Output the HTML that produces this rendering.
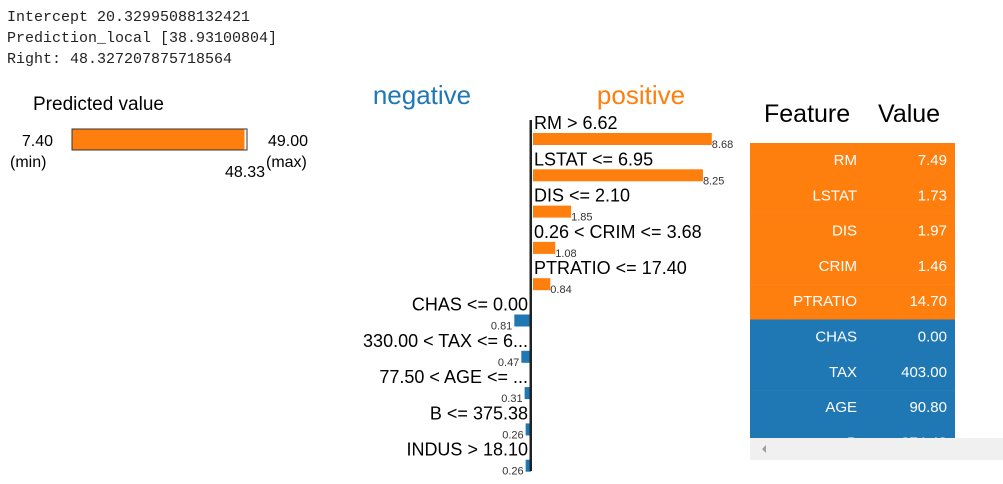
<!DOCTYPE html>
<html><head><meta charset="utf-8"><style>
body{margin:0;width:1003px;height:484px;background:#fff;overflow:hidden;position:relative;font-family:"Liberation Sans",sans-serif}
pre{position:absolute;left:7px;top:7px;margin:0;font-family:"Liberation Mono",monospace;font-size:15px;line-height:21px;color:#222}
svg{position:absolute;left:0;top:0}
</style></head><body>
<pre>Intercept 20.32995088132421
Prediction_local [38.93100804]
Right: 48.327207875718564</pre>
<svg width="1003" height="484">
<g>
<text x="33" y="110" font-size="19" fill="#000">Predicted value</text>
<rect x="72" y="129" width="175" height="21" fill="#fff" stroke="#333" stroke-width="1"/>
<rect id="predbar" x="72.5" y="129.5" width="172" height="20" fill="#ff7f0e"/>
<text x="53" y="146" font-size="16" text-anchor="end">7.40</text>
<text x="10" y="167" font-size="16">(min)</text>
<text x="268" y="146" font-size="16">49.00</text>
<text x="266" y="167" font-size="16">(max)</text>
<text x="265" y="177" font-size="16" text-anchor="end">48.33</text>
</g>
<text x="422" y="104" font-size="26" fill="#1f77b4" text-anchor="middle">negative</text>
<text x="641" y="104" font-size="26" fill="#ff7f0e" text-anchor="middle">positive</text>
<g id="bars"></g>
<rect x="529.5" y="120" width="2.5" height="351" fill="#222"/>
<g>
<text x="764" y="122" font-size="25">Feature</text>
<text x="878" y="122" font-size="25">Value</text>
<g id="rows"></g>
<rect x="750" y="438" width="253" height="22" fill="#f0f0f0"/>
<polygon points="762,449 766,445 766,453" fill="#a0a0a0"/>
</g>
</svg>
<script>
const labels=["RM > 6.62","LSTAT <= 6.95","DIS <= 2.10","0.26 < CRIM <= 3.68","PTRATIO <= 17.40","CHAS <= 0.00","330.00 < TAX <= 6...","77.50 < AGE <= ...","B <= 375.38","INDUS > 18.10"];
const weights=[8.68,8.25,1.85,1.08,0.84,-0.81,-0.47,-0.31,-0.26,-0.26];
const tableFeatures=["RM","LSTAT","DIS","CRIM","PTRATIO","CHAS","TAX","AGE","B"];
const tableValues=["7.49","1.73","1.97","1.46","14.70","0.00","403.00","90.80","374.43"];
const tableSign=[1,1,1,1,1,-1,-1,-1,-1];
const NS="http://www.w3.org/2000/svg";
const x0=531,scale=20.6,y0=123,step=36.3;
function xs(v){return x0+v*scale;}
function mk(t,a,p){const e=document.createElementNS(NS,t);for(const k in a)e.setAttribute(k,a[k]);p.appendChild(e);return e;}
const g=document.getElementById('bars');
weights.forEach((w,i)=>{
 const y=y0+i*step;
 const pos=w>0;
 const x1=Math.min(xs(w),x0),x2=Math.max(xs(w),x0);
 const b=mk('rect',{x:pos?x1+2:x1,y:y+10,width:x2-x1,height:12,fill:pos?'#ff7f0e':'#1f77b4'},g);
 
 
 const t=mk('text',{x:pos?x0+3:x0-3,y:y+6,'font-size':18,'text-anchor':pos?'start':'end'},g);
 t.textContent=labels[i];
 
 
 const v=mk('text',{x:pos?x2+2:x1-2,y:y+25,'font-size':11,'text-anchor':pos?'start':'end',fill:'#333'},g);
 v.textContent=Math.abs(w).toFixed(2);
 
 
});
const r=document.getElementById('rows');
tableFeatures.forEach((f,i)=>{
 const y=143+i*35.3;
 const h=i==tableFeatures.length-1?438-y:35.5;
 const rr=mk('rect',{x:750,y:y,width:205,height:h,fill:tableSign[i]>0?'#ff7f0e':'#1f77b4'},r);
 
 
 const a=mk('text',{x:857,y:y+22,'font-size':15,fill:'#fff','text-anchor':'end'},r);
 a.textContent=f;
 
 
 const b=mk('text',{x:947,y:y+22,'font-size':15,fill:'#fff','text-anchor':'end'},r);
 b.textContent=tableValues[i];
 
 
});
</script>
</body></html>
